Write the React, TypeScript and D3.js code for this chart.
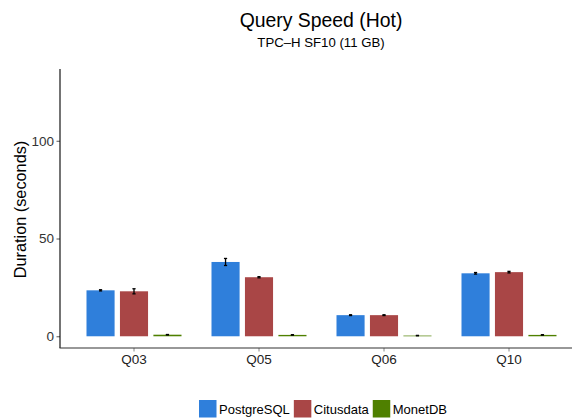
import { useRef, useEffect } from "react";
import * as d3 from "d3";

const queries = ["Q03", "Q05", "Q06", "Q10"];
const engines = ["PostgreSQL", "Citusdata", "MonetDB"];
const engineColors = ["#2f7fdb", "#a94646", "#4f8000"];
// mean duration per query, one array per engine
const postgresValues = [23.5, 38.0, 10.8, 32.2];
const citusValues = [23.0, 30.2, 10.8, 32.8];
const monetValues = [0.8, 0.7, 0.35, 0.7];
// standard deviation (error bars)
const postgresErr = [0.3, 1.8, 0.2, 0.4];
const citusErr = [1.3, 0.3, 0.2, 0.4];
const monetErr = [0.1, 0.1, 0.1, 0.1];
const yTicks = [0, 50, 100];

const W = 574;
const H = 419;
const FONT = "'Liberation Sans', Arial, Helvetica, sans-serif";

export default function App() {
  const svgRef = useRef(null);

  useEffect(() => {
    const svg = d3.select(svgRef.current);
    svg.selectAll("*").remove();
    svg.attr("viewBox", [0, 0, W, H]).style("font-family", FONT);

    const values = [postgresValues, citusValues, monetValues];
    const errs = [postgresErr, citusErr, monetErr];
    const rows = queries.flatMap((q, qi) =>
      engines.map((e, ei) => ({
        query: q,
        engine: e,
        value: values[ei][qi],
        err: errs[ei][qi],
        color: engineColors[ei],
      }))
    );

    const panelLeft = 60;
    const panelRight = 572;
    const panelTop = 69;
    const panelBottom = 348;

    const x = d3.scaleBand().domain(queries).range([71.5, 571.5]).padding(0);
    const xInner = d3
      .scaleBand()
      .domain(engines)
      .range([15, 110])
      .paddingInner(0.16)
      .paddingOuter(0);
    const y = d3.scaleLinear().domain([-6, 136.7]).range([panelBottom, panelTop]);

    // titles
    svg.append("text")
      .attr("x", 321).attr("y", 27)
      .attr("text-anchor", "middle")
      .attr("font-size", 19.4)
      .attr("fill", "#000")
      .text("Query Speed (Hot)");
    svg.append("text")
      .attr("x", 321).attr("y", 47.3)
      .attr("text-anchor", "middle")
      .attr("font-size", 13.2)
      .attr("fill", "#000")
      .text("TPC\u2013H SF10 (11 GB)");

    // bars
    const g = svg.append("g");
    g.selectAll("rect.bar")
      .data(rows)
      .enter()
      .append("rect")
      .attr("class", "bar")
      .attr("x", (d) => x(d.query) + xInner(d.engine))
      .attr("width", xInner.bandwidth())
      .attr("y", (d) => y(d.value))
      .attr("height", (d) => y(0) - y(d.value))
      .attr("fill", (d) => d.color);

    // error bars
    const capW = 1.6;
    const eb = g.selectAll("g.err")
      .data(rows)
      .enter()
      .append("g")
      .attr("class", "err")
      .attr("stroke", "#000")
      .attr("stroke-width", 1.3);
    const cx = (d) => x(d.query) + xInner(d.engine) + xInner.bandwidth() / 2;
    eb.append("line")
      .attr("x1", cx).attr("x2", cx)
      .attr("y1", (d) => y(d.value - d.err))
      .attr("y2", (d) => y(d.value + d.err));
    eb.append("line")
      .attr("x1", (d) => cx(d) - capW).attr("x2", (d) => cx(d) + capW)
      .attr("y1", (d) => y(d.value + d.err))
      .attr("y2", (d) => y(d.value + d.err));
    eb.append("line")
      .attr("x1", (d) => cx(d) - capW).attr("x2", (d) => cx(d) + capW)
      .attr("y1", (d) => y(d.value - d.err))
      .attr("y2", (d) => y(d.value - d.err));

    // y axis
    const yAxis = svg.append("g").attr("transform", `translate(${panelLeft},0)`)
      .call(d3.axisLeft(y).tickValues(yTicks).tickSize(3.5).tickPadding(2.5));
    yAxis.select(".domain").remove();
    yAxis.selectAll(".tick line").attr("stroke", "#555");
    yAxis.selectAll(".tick text")
      .attr("font-size", 13.5)
      .attr("font-family", FONT)
      .attr("fill", "#333");
    svg.append("line")
      .attr("x1", panelLeft).attr("x2", panelLeft)
      .attr("y1", panelTop).attr("y2", panelBottom)
      .attr("stroke", "#000").attr("stroke-width", 1.1);

    // x axis
    const xAxis = svg.append("g").attr("transform", `translate(0,${panelBottom})`)
      .call(d3.axisBottom(x).tickSize(3.5).tickPadding(3));
    xAxis.select(".domain").remove();
    xAxis.selectAll(".tick line").attr("stroke", "#888");
    xAxis.selectAll(".tick text")
      .attr("font-size", 13.5)
      .attr("font-family", FONT)
      .attr("fill", "#222");
    svg.append("line")
      .attr("x1", panelLeft - 0.5).attr("x2", panelRight)
      .attr("y1", panelBottom).attr("y2", panelBottom)
      .attr("stroke", "#333").attr("stroke-width", 1.1);

    // y axis title
    svg.append("text")
      .attr("transform", `translate(25.5,${(panelTop + panelBottom) / 2 + 1}) rotate(-90)`)
      .attr("text-anchor", "middle")
      .attr("font-size", 16.3)
      .attr("fill", "#000")
      .text("Duration (seconds)");

    // legend
    const key = 17.5;
    const legend = svg.append("g").attr("transform", "translate(199,400)");
    let lx = 0;
    engines.forEach((e, i) => {
      const item = legend.append("g").attr("transform", `translate(${lx},0)`);
      item.append("rect")
        .attr("width", key).attr("height", key)
        .attr("fill", engineColors[i]);
      const t = item.append("text")
        .attr("x", key + 2.5).attr("y", 13.5)
        .attr("font-size", 13)
        .attr("fill", "#000")
        .text(e);
      const tw = (t.node() as SVGTextElement).getComputedTextLength();
      lx += key + 2.5 + tw + 4;
    });
  }, []);

  return (
    <svg
      ref={svgRef}
      width={W}
      height={H}
      style={{ position: "absolute", left: 0, top: 0, background: "#fff" }}
    />
  );
}
